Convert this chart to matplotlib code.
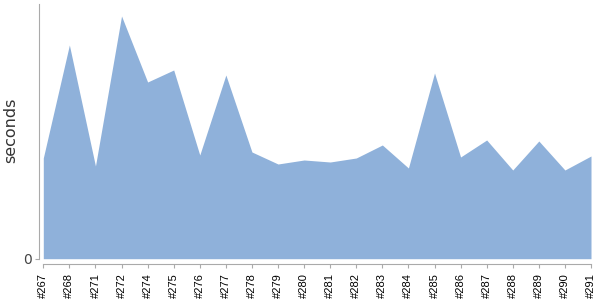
import matplotlib
matplotlib.use('Agg')
import matplotlib.pyplot as plt

builds = ['#267', '#268', '#271', '#272', '#274', '#275', '#276', '#277', '#278', '#279', '#280',
          '#281', '#282', '#283', '#284', '#285', '#286', '#287', '#288', '#289', '#290', '#291']
seconds = [100.7, 213.7, 92.7, 242.7, 176.7, 188.7, 103.7, 183.7, 106.7, 94.7, 98.7,
           96.7, 100.7, 113.7, 90.7, 185.7, 101.7, 118.7, 88.7, 117.7, 88.7, 102.7]

fig = plt.figure(figsize=(6, 3), dpi=100)
ax = fig.add_axes([43.3 / 600, 1 - 258.7 / 300, (591 - 43.3) / 600, (258.7 - 4) / 300])

x = list(range(len(builds)))
ax.fill_between(x, seconds, 0, color='#8fb1da', linewidth=0)
ax.set_xlim(0, len(builds) - 1)
ax.set_ylim(0, 254.7)

for side in ['top', 'right']:
    ax.spines[side].set_visible(False)
ax.spines['left'].set_position(('outward', 3))
ax.spines['bottom'].set_position(('outward', 4))
ax.spines['left'].set_color('#aaaaaa')
ax.spines['bottom'].set_color('#aaaaaa')
ax.tick_params(axis='x', length=3, color='#aaaaaa', pad=3.5, labelrotation=90, labelsize=8)
ax.tick_params(axis='y', length=3, color='#aaaaaa', pad=2, labelsize=10, labelcolor='#444444')

ax.set_xticks(x)
ax.set_xticklabels(builds, family='Liberation Sans')
ax.set_yticks([0])
ax.set_yticklabels(['0'])
ax.set_ylabel('seconds', fontsize=11.5, color='#333333')
ax.yaxis.set_label_coords(-0.045, 0.505)

fig.savefig('out.png', dpi=100)
